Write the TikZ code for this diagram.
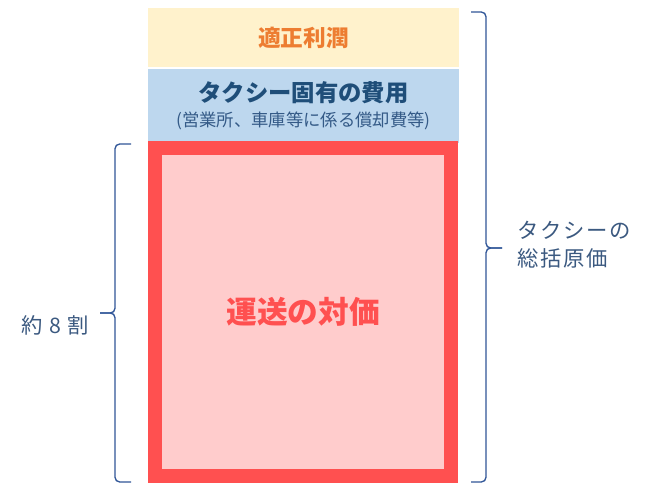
\documentclass[tikz,border=0pt]{standalone}
\usepackage{fontspec}
\setmainfont{Noto Sans CJK JP}
\usepackage{tikz}
\usetikzlibrary{positioning,calc}

\definecolor{profitfill}{HTML}{FFF2CC}
\definecolor{profittext}{HTML}{ED7D31}
\definecolor{costfill}{HTML}{BDD7EE}
\definecolor{costtext}{HTML}{1F4E79}
\definecolor{costsub}{RGB}{52,90,135}
\definecolor{fareline}{HTML}{FF5050}
\definecolor{farefill}{HTML}{FFCCCC}
\definecolor{bracecol}{HTML}{2F5597}
\definecolor{notetext}{RGB}{59,89,128}

\begin{document}
\begin{tikzpicture}[x=0.75pt,y=-0.75pt,
  layer/.style={rectangle,inner sep=0pt,minimum width=233.25pt},
  bracket/.style={draw=bracecol,line width=1pt,rounded corners=3.5pt},
  note/.style={text=notetext,font=\fontsize{16}{21}\selectfont\addfontfeatures{LetterSpace=8}}]
\useasboundingbox (0,0) rectangle (650,483);

% Layer 1 - Profit
\node[layer,fill=profitfill,minimum height=44.25pt,text=profittext,
  font=\fontsize{17}{20}\selectfont\bfseries] (profit) at (303.5,37.5) {適正利潤};

% Layer 2 - Taxi specific costs
\node[layer,fill=costfill,minimum height=55.5pt,align=center,
  font=\fontsize{13}{18.5}\selectfont] (cost) at (303.5,106)
  {{\fontsize{17.5}{18.5}\selectfont\bfseries\color{costtext}タクシー固有の費用}\\
   {\fontsize{13}{18.5}\selectfont\color{costsub}(営業所、車庫等に係る償却費等)}};

% Layer 3 - Transport fare
\node[rectangle,draw=fareline,line width=10.5pt,fill=farefill,inner sep=0pt,
  minimum width=222pt,minimum height=246pt,text=fareline,
  font=\fontsize{23}{26}\selectfont\bfseries] (fare) at (303,312) {運送の対価};

% Brace - about 80 percent
\draw[bracket] (131,144) -- (115,144) -- (115,313) -- (100,313);
\draw[bracket] (100,313) -- (115,313) -- (115,482) -- (131,482);
\node[note] (share) at (55,325) {約 8 割};

% Brace - total cost
\draw[bracket] (471,12) -- (486,12) -- (486,248) -- (502,248);
\draw[bracket] (502,248) -- (486,248) -- (486,482) -- (471,482);
\node[note,align=left,anchor=west] (total) at (513,245) {タクシーの\\総括原価};
\end{tikzpicture}
\end{document}
